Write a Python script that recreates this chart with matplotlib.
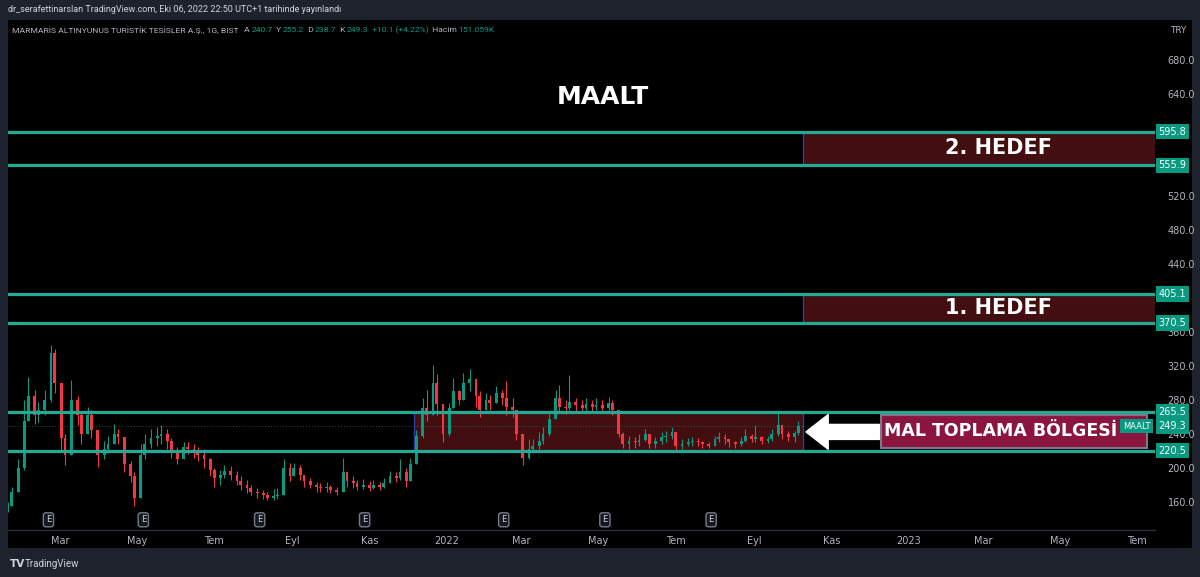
import matplotlib.pyplot as plt
import matplotlib.dates as mdates
from matplotlib.patches import Rectangle
import numpy as np
import pandas as pd

# ---- Data -----------------------------------------------------------------
close = [155, 172, 200, 255, 285, 262, 268, 280, 335, 300,
         235, 215, 280, 262, 240, 262, 245, 215, 222, 228,
         240, 236, 205, 190, 165, 215, 228, 235, 238, 240,
         232, 218, 210, 225, 222, 220, 215, 210, 198, 188,
         192, 196, 192, 185, 180, 176, 172, 170, 168, 165,
         167, 168, 200, 190, 200, 192, 185, 180, 178, 176,
         178, 174, 172, 195, 185, 182, 178, 180, 177, 180,
         178, 182, 190, 188, 195, 185, 205, 238, 270, 262,
         300, 275, 240, 270, 290, 280, 300, 305, 285, 268,
         280, 276, 288, 282, 272, 268, 240, 212, 222, 226,
         232, 240, 258, 282, 272, 270, 278, 274, 270, 275,
         272, 274, 270, 276, 268, 240, 228, 232, 230, 233,
         240, 228, 232, 236, 238, 242, 226, 228, 230, 232,
         230, 228, 226, 234, 236, 234, 230, 228, 232, 238,
         234, 236, 232, 234, 240, 250, 240, 236, 240.7, 249.3]
high = [160, 178, 210, 280, 307, 292, 278, 292, 345, 340,
        292, 240, 303, 285, 265, 272, 268, 240, 232, 238,
        252, 246, 232, 208, 195, 228, 240, 246, 248, 250,
        246, 235, 225, 230, 230, 228, 225, 222, 212, 200,
        198, 204, 202, 196, 190, 186, 180, 176, 174, 172,
        175, 176, 210, 206, 206, 204, 192, 188, 184, 182,
        184, 180, 178, 212, 195, 190, 186, 187, 185, 186,
        184, 188, 196, 195, 210, 200, 212, 245, 282, 292,
        321, 310, 268, 276, 306, 292, 312, 316, 300, 290,
        288, 286, 296, 292, 302, 282, 262, 238, 234, 234,
        242, 248, 264, 292, 298, 280, 309, 282, 280, 282,
        280, 282, 280, 284, 280, 266, 242, 238, 236, 240,
        246, 238, 236, 242, 244, 248, 240, 234, 235, 236,
        235, 232, 230, 238, 242, 240, 234, 232, 236, 246,
        240, 250, 238, 238, 246, 265, 250, 244, 244, 255.2]
low = [148, 160, 180, 198, 262, 252, 254, 262, 278, 288,
       220, 203, 230, 250, 228, 242, 235, 201, 210, 218,
       230, 228, 195, 184, 155, 170, 210, 224, 226, 228,
       222, 212, 205, 215, 216, 212, 208, 200, 190, 178,
       180, 188, 186, 180, 174, 170, 168, 165, 163, 162,
       162, 163, 168, 185, 190, 186, 178, 176, 172, 172,
       172, 170, 168, 172, 178, 176, 174, 175, 173, 175,
       174, 176, 182, 184, 186, 178, 188, 205, 235, 255,
       270, 262, 230, 238, 270, 274, 284, 290, 272, 260,
       270, 268, 276, 274, 262, 260, 233, 203, 210, 218,
       222, 228, 238, 260, 266, 264, 268, 266, 265, 267,
       266, 268, 265, 268, 262, 236, 224, 222, 224, 226,
       232, 223, 224, 228, 230, 234, 222, 222, 226, 226,
       226, 224, 223, 226, 230, 228, 225, 224, 226, 230,
       230, 230, 228, 229, 232, 238, 234, 232, 230, 238.7]
first_open = 150.0

levels = [595.8, 555.9, 405.1, 370.5, 265.5, 220.5]
last_price = 249.3

targets = [("2. HEDEF", 555.9, 595.8), ("1. HEDEF", 370.5, 405.1)]
zone = ("2021-12-06", "2022-10-10", 220.5, 265.5)
zone_label = ("MAL TOPLAMA BÖLGESİ", "2022-12-10", "2023-07-09", 223.5, 262.4)
earnings = ["2021-02-20", "2021-05-06", "2021-08-06", "2021-10-28",
            "2022-02-15", "2022-05-06", "2022-07-29"]

month_ticks = ["2021-03-01", "2021-05-01", "2021-07-01", "2021-09-01", "2021-11-01",
               "2022-01-01", "2022-03-01", "2022-05-01", "2022-07-01", "2022-09-01",
               "2022-11-01", "2023-01-01", "2023-03-01", "2023-05-01", "2023-07-01"]
month_labels = ["Mar", "May", "Tem", "Eyl", "Kas", "2022", "Mar", "May", "Tem", "Eyl",
                "Kas", "2023", "Mar", "May", "Tem"]

# ---- Colours ---------------------------------------------------------------
BG = "#1e222d"
TEAL = "#22ab94"
UP = "#089981"
DOWN = "#f23645"
BOX = "#420e10"
BLUE = "#2b3ea8"
GRAY = "#b2b5be"

W, H = 1200, 577
fig = plt.figure(figsize=(12, 5.77), dpi=100, facecolor=BG)

# black chart pane (incl. price + time axis), drawn behind the axes
fig.patches.append(Rectangle((8 / W, (H - 548) / H), 1184 / W, 528 / H,
                             transform=fig.transFigure, fc="black", ec="none", zorder=-5))

ax = fig.add_axes([8 / W, (H - 530) / H, 1147 / W, 510 / H], facecolor="black")


def dn(s):
    return mdates.date2num(pd.Timestamp(s))


# ---- Candles ---------------------------------------------------------------
dates = pd.bdate_range(end="2022-10-06", periods=len(close), freq="3B")
c = np.array(close, dtype=float)
o = np.concatenate([[first_open], c[:-1]])
h = np.maximum(np.array(high, dtype=float), np.maximum(o, c))
l = np.minimum(np.array(low, dtype=float), np.minimum(o, c))
cols = np.where(c >= o, UP, DOWN)
x = mdates.date2num(dates)

ax.vlines(x, l, h, colors=cols, lw=0.8, zorder=3)
ax.bar(x, np.maximum(np.abs(c - o), 0.6), bottom=np.minimum(o, c), width=2.2,
       color=cols, zorder=3)

# ---- Boxes -----------------------------------------------------------------
box_start = dn(zone[1])
box_end = dn("2023-09-30")
for label, lo, hi in targets:
    ax.add_patch(Rectangle((box_start, lo), box_end - box_start, hi - lo,
                           fc=BOX, ec=BLUE, lw=1, zorder=2))
    ax.text(dn("2023-03-13"), (lo + hi) / 2, label,
            color="white", fontsize=15, fontweight="bold", ha="center", va="center", zorder=6)

z0, z1 = dn(zone[0]), dn(zone[1])
ax.add_patch(Rectangle((z0, zone[2]), z1 - z0, zone[3] - zone[2],
                       fc=BOX, ec=BLUE, lw=1, zorder=2))

lab, d0, d1, lo, hi = zone_label
x0, x1 = dn(d0), dn(d1)
ax.add_patch(Rectangle((x0, lo), x1 - x0, hi - lo, fc="#8c1540", ec="#787b86", lw=1.5, zorder=6))
ax.text(x0 + (x1 - x0) * 0.45, (lo + hi) / 2, lab, color="white", fontsize=12.5,
        fontweight="bold", ha="center", va="center", zorder=7)

# arrow pointing at the zone
ax.annotate("", xy=(dn("2022-10-12"), 242.4), xytext=(dn("2022-12-09"), 242.4),
            arrowprops=dict(arrowstyle="simple,head_length=1.6,head_width=2.5,tail_width=1.08",
                            color="white", shrinkA=0, shrinkB=0, mutation_scale=10),
            zorder=7)

# ---- Horizontal levels ------------------------------------------------------
for lv in levels:
    ax.axhline(lv, color=TEAL, lw=2.3, zorder=5)
ax.axhline(last_price, color=TEAL, lw=0.7, ls=(0, (1, 2)), alpha=0.5, zorder=4)

# ---- Price tags on the right axis -------------------------------------------
for lv in levels + [last_price]:
    ax.text(1.003, lv, f"{lv:.1f}", transform=ax.get_yaxis_transform(), ha="left",
            va="center", fontsize=7, color="white", zorder=10, clip_on=False,
            bbox=dict(boxstyle="square,pad=0.3", fc=UP, ec="none"))
ax.text(0.996, last_price, "MAALT", transform=ax.get_yaxis_transform(), ha="right",
        va="center", fontsize=6, color="white", zorder=10, clip_on=False,
        bbox=dict(boxstyle="square,pad=0.3", fc=UP, ec="none"))

# ---- Earnings markers --------------------------------------------------------
for d in earnings:
    ax.text(dn(d), 0.02, "E", transform=ax.get_xaxis_transform(),
            ha="center", va="center", fontsize=6, color="#d1d4dc", zorder=8,
            bbox=dict(boxstyle="round,pad=0.3", fc="#131722", ec="#787b86", lw=1))

# ---- Texts -------------------------------------------------------------------
ax.text(0.519, 0.849, "MAALT", transform=ax.transAxes, color="white", fontsize=18,
        fontweight="bold", ha="center", va="center", zorder=6)
ax.text(1.013, 0.980, "TRY", transform=ax.transAxes, color=GRAY, fontsize=6.5,
        ha="left", va="center")

renderer = fig.canvas.get_renderer()


def chain(px, py, pieces, size):
    xf = px / W
    for s, col in pieces:
        t = fig.text(xf, 1 - py / H, s, color=col, fontsize=size, va="center", ha="left",
                     family="Roboto")
        bb = t.get_window_extent(renderer)
        xf = bb.x1 / W + 1.5 / W


chain(8, 10, [("dr_serafettinarslan TradingView.com, Eki 06, 2022 22:50 UTC+1 tarihinde yayınlandı",
               "#d1d4dc")], 6.5)
chain(12, 30, [("MARMARİS ALTINYUNUS TURİSTİK TESİSLER A.Ş., 1G, BIST ", GRAY),
               (" A", GRAY), ("240.7", UP), (" Y", GRAY), ("255.2", UP),
               (" D", GRAY), ("238.7", UP), (" K", GRAY), ("249.3", UP),
               (" +10.1 (+4.22%)", UP), (" Hacim", GRAY), ("151.059K", UP)], 6.1)
fig.text(10 / W, 1 - 564 / H, "TV", color="#d1d4dc", fontsize=7.5, fontweight="bold",
         va="center")
fig.text(25 / W, 1 - 564 / H, "TradingView", color="#d1d4dc", fontsize=7, va="center",
         family="Roboto")

# ---- Axes cosmetics ------------------------------------------------------------
ax.set_xlim(dn("2021-01-19"), dn("2023-07-15"))
ax.set_ylim(127, 727)
ax.set_xticks(mdates.date2num(pd.to_datetime(month_ticks)))
ax.set_xticklabels(month_labels)
yt = np.arange(160, 681, 40)
hidden = (400, 560, 600)   # covered by the price tags on the chart
ax.set_yticks(yt)
ax.set_yticklabels(["" if v in hidden else f"{v:.1f}" for v in yt])
ax.yaxis.tick_right()
ax.tick_params(axis="y", length=0, pad=9, labelsize=7, labelcolor=GRAY)
ax.tick_params(axis="x", length=0, pad=4, labelsize=7, labelcolor=GRAY)
for side in ("top", "left", "right"):
    ax.spines[side].set_visible(False)
ax.spines["bottom"].set_color("#2a2e39")
ax.spines["bottom"].set_linewidth(1)

fig.savefig("out.png", dpi=100, facecolor=BG)
